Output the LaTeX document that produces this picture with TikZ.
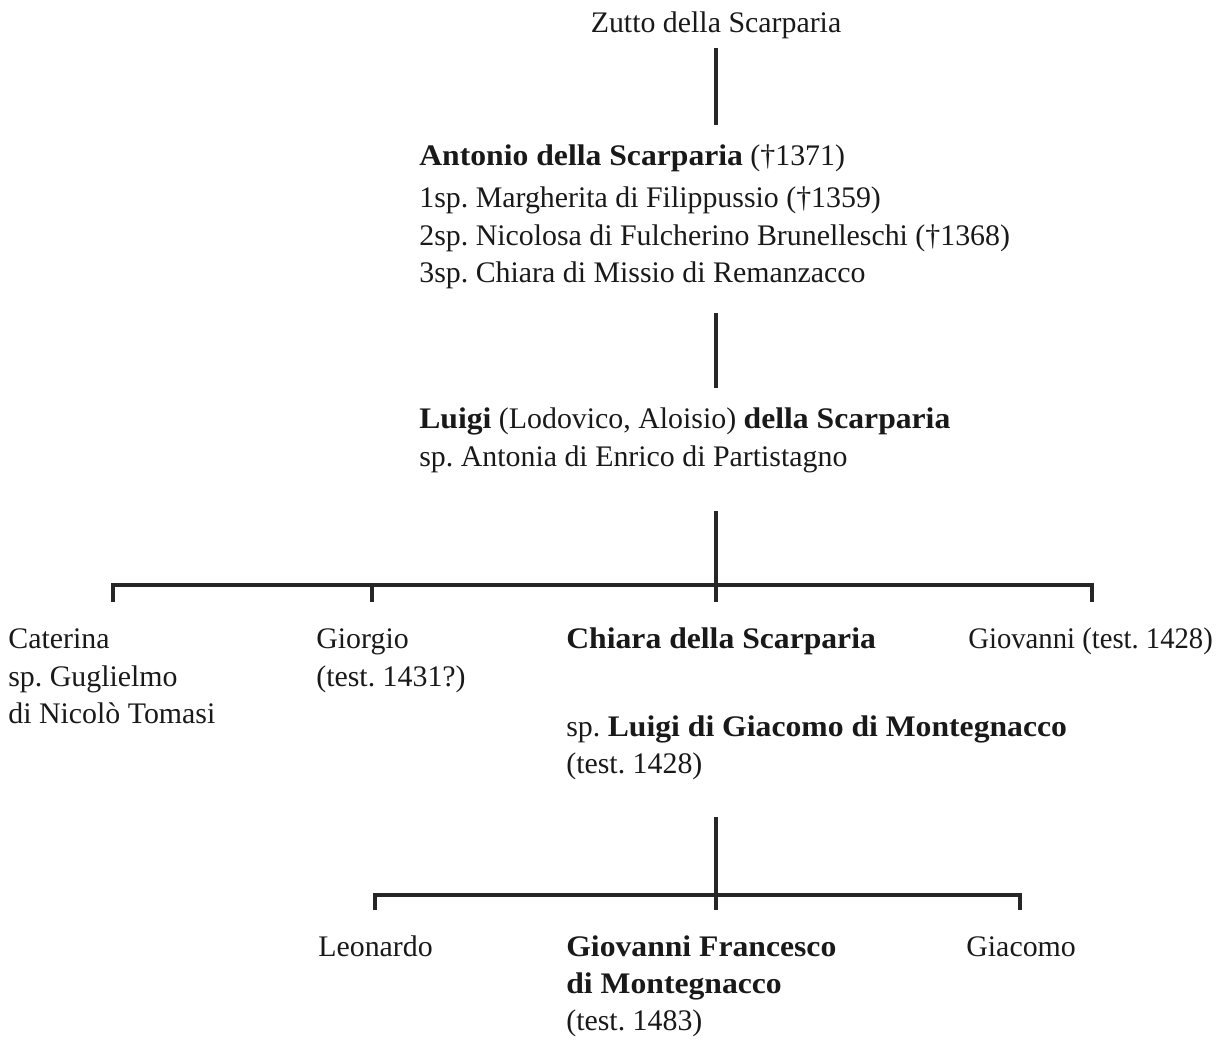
\documentclass[tikz,border=0pt]{standalone}
\usepackage{fontspec}
\setmainfont[BoldFeatures={FakeStretch=1.06}]{Liberation Serif}
\usetikzlibrary{positioning}
\frenchspacing

\begin{document}
\begin{tikzpicture}[
    x=0.02cm, y=-0.02cm,
    person/.style={anchor=base west, inner sep=0pt, text=black!90,
                   font=\fontsize{17}{20}\selectfont},
    line/.style={line width=1.9pt, draw=black!85}
  ]
    \useasboundingbox (0,0) rectangle (1222,1051);

    % Ancestors
    \node[person, anchor=base] (zutto) at (716,33) {Zutto della Scarparia};
    \node[person] (antonio) at (419,165) {\textbf{Antonio della Scarparia} (†1371)};
    \node[person] (wife1) at (419,207) {1sp. Margherita di Filippussio (†1359)};
    \node[person] (wife2) at (419,245) {2sp. Nicolosa di Fulcherino Brunelleschi (†1368)};
    \node[person] (wife3) at (419,282) {3sp. Chiara di Missio di Remanzacco};
    \node[person] (luigi) at (419,428) {\textbf{Luigi} (Lodovico, Aloisio) \textbf{della Scarparia}};
    \node[person] (antonia) at (419,466) {sp. Antonia di Enrico di Partistagno};

    % Children of Luigi
    \node[person] (caterina) at (8,648) {Caterina};
    \node[person] (guglielmo) at (8,686) {sp. Guglielmo};
    \node[person] (tomasi) at (8,723) {di Nicolò Tomasi};
    \node[person] (giorgio) at (316,648) {Giorgio};
    \node[person] (giorgio-test) at (316,686) {(test. 1431?)};
    \node[person] (chiara) at (566,648) {\textbf{Chiara della Scarparia}};
    \node[person] (husband) at (566,736) {sp. \textbf{Luigi di Giacomo di Montegnacco}};
    \node[person] (husband-test) at (566,773) {(test. 1428)};
    \node[person] (giovanni) at (968,648) {\scalebox{0.96}[1]{Giovanni (test. 1428)}};

    % Grandchildren
    \node[person] (leonardo) at (318,956) {Leonardo};
    \node[person] (gianfranco) at (566,956) {\textbf{Giovanni Francesco}};
    \node[person] (gianfranco-2) at (566,993) {\textbf{di Montegnacco}};
    \node[person] (gianfranco-test) at (566,1030) {(test. 1483)};
    \node[person] (giacomo) at (966,956) {Giacomo};

    % Descent lines
    \draw[line, shorten <=5pt, shorten >=11pt] (zutto.south) -- (zutto.south |- antonio.north);
    \draw[line, shorten <=14pt, shorten >=11pt] (wife3.south -| zutto) -- (luigi.north -| zutto);

    % Fork under Luigi
    \coordinate (bar1) at (716,585);
    \coordinate (t-caterina) at (113,585);
    \coordinate (t-giorgio) at (372,585);
    \coordinate (t-giovanni) at (1092,585);
    \draw[line, shorten <=22pt] (antonia.south -| bar1) -- (bar1) -- ++(0,17);
    \draw[line] (t-caterina) ++(0,17) -- (t-caterina) -- (t-giovanni) -- ++(0,17);
    \draw[line] (t-giorgio) -- ++(0,17);

    % Fork under Chiara
    \coordinate (bar2) at (716,895);
    \coordinate (t-leonardo) at (375,895);
    \coordinate (t-giacomo) at (1020,895);
    \draw[line, shorten <=21pt] (husband-test.south -| bar2) -- (bar2) -- ++(0,15);
    \draw[line] (t-leonardo) ++(0,15) -- (t-leonardo) -- (t-giacomo) -- ++(0,15);
\end{tikzpicture}
\end{document}
